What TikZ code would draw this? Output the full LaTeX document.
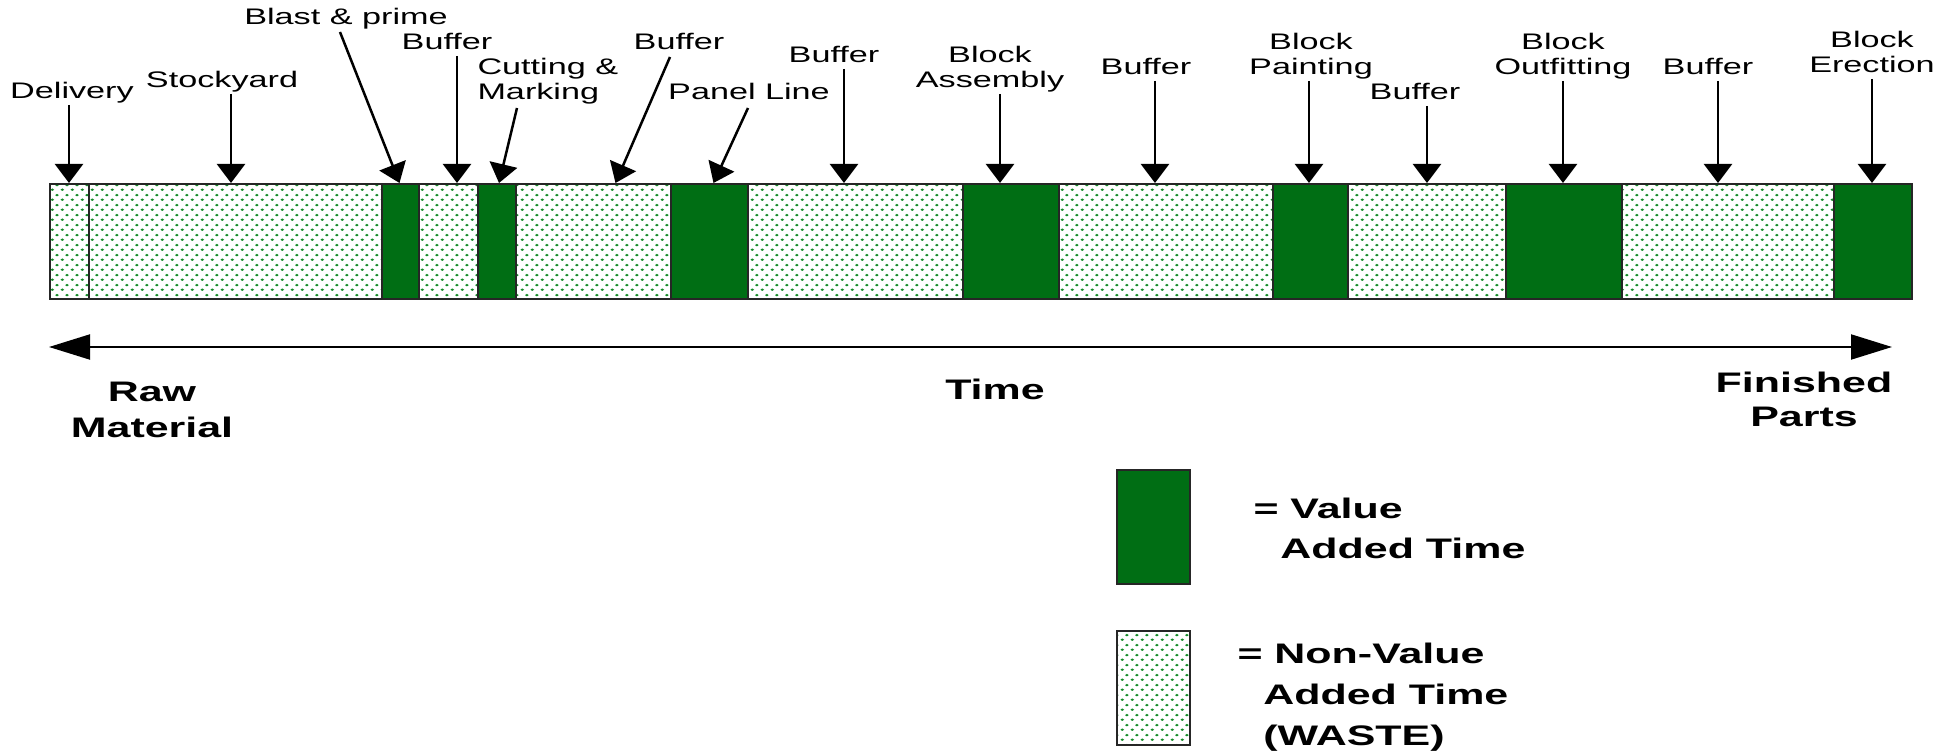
\documentclass[tikz,border=0pt]{standalone}
\usepackage{fontspec}
\setmainfont{Liberation Sans}
\usepackage{graphicx}
\usetikzlibrary{arrows.meta,patterns.meta,calc}

\definecolor{vagreen}{RGB}{0,110,20}
\definecolor{dotgreen}{RGB}{20,140,40}

\tikzdeclarepattern{
  name=wastedots, type=uncolored,
  bottom left={(0pt,0pt)}, top right={(4pt,4pt)}, tile size={(4pt,4pt)},
  code={
    \pgfpathellipse{\pgfqpoint{1pt}{1pt}}{\pgfqpoint{0.8pt}{0pt}}{\pgfqpoint{0pt}{0.55pt}}
    \pgfpathellipse{\pgfqpoint{3pt}{3pt}}{\pgfqpoint{0.8pt}{0pt}}{\pgfqpoint{0pt}{0.55pt}}
    \pgfusepath{fill}
  }
}

\newcommand{\stretchx}[1]{\scalebox{1.52}[1]{#1}}
\newcommand{\lblfont}{\fontsize{9}{10}\selectfont}
\newcommand{\segnode}[4]{\node[#1, minimum width={(#4-#3)*0.4pt}] (#2) at (#3,183) {};}
\newcommand{\vconn}[3]{\path (#1.base) ++(#3,6) coordinate (#1s); \draw[arr] (#1s) -- (#1s |- #2.north);}

\tikzset{
  segbase/.style={draw=black!85, line width=0.8pt, inner sep=0pt, minimum height=46pt, anchor=north west},
  vaseg/.style={segbase, fill=vagreen},
  nvseg/.style={segbase, pattern=wastedots, pattern color=dotgreen},
  toplabel/.style={inner sep=0pt, anchor=base, font=\lblfont},
  boldlabel/.style={inner sep=0pt, anchor=base, font=\fontsize{11.3}{14.4}\selectfont\bfseries},
  arr/.style={line width=1pt, -{Triangle[length=7.6pt,width=11.2pt]}},
  timearr/.style={line width=0.8pt, {Triangle[length=16.4pt,width=10pt]}-{Triangle[length=16.4pt,width=10pt]}},
}

\begin{document}
\begin{tikzpicture}[x=0.4pt,y=-0.4pt]
\useasboundingbox (0,0) rectangle (1955,752);
\fill[white] (0,0) rectangle (1955,752);

% bar segments
\segnode{nvseg}{s1}{49}{88}
\segnode{nvseg}{s2}{88}{381}
\segnode{vaseg}{s3}{381}{418}
\segnode{nvseg}{s4}{418}{477}
\segnode{vaseg}{s5}{477}{515}
\segnode{nvseg}{s6}{515}{670}
\segnode{vaseg}{s7}{670}{747}
\segnode{nvseg}{s8}{747}{962}
\segnode{vaseg}{s9}{962}{1058}
\segnode{nvseg}{s10}{1058}{1272}
\segnode{vaseg}{s11}{1272}{1347}
\segnode{nvseg}{s12}{1347}{1505}
\segnode{vaseg}{s13}{1505}{1621}
\segnode{nvseg}{s14}{1621}{1833}
\segnode{vaseg}{s15}{1833}{1911}

% top labels
\node[toplabel] (l1) at (72,99) {\stretchx{Delivery}};
\node[toplabel] (l2) at (222,88) {\stretchx{Stockyard}};
\node[toplabel] (l3) at (346,25) {\stretchx{Blast \& prime}};
\node[toplabel] (l4) at (447,50) {\stretchx{Buffer}};
\node[toplabel, anchor=base west] (l5) at (477,100) {\stretchx{\begin{tabular}[b]{@{}l@{}}Cutting \&\\Marking\end{tabular}}};
\node[toplabel] (l6) at (679,50) {\stretchx{Buffer}};
\node[toplabel] (l7) at (749,100) {\stretchx{Panel Line}};
\node[toplabel] (l8) at (834,63) {\stretchx{Buffer}};
\node[toplabel] (l9) at (990,88) {\stretchx{\begin{tabular}[b]{@{}c@{}}Block\\Assembly\end{tabular}}};
\node[toplabel] (l10) at (1146,75) {\stretchx{Buffer}};
\node[toplabel] (l11) at (1311,75) {\stretchx{\begin{tabular}[b]{@{}c@{}}Block\\Painting\end{tabular}}};
\node[toplabel] (l12) at (1415,100) {\stretchx{Buffer}};
\node[toplabel] (l13) at (1563,75) {\stretchx{\begin{tabular}[b]{@{}c@{}}Block\\Outfitting\end{tabular}}};
\node[toplabel] (l14) at (1708,75) {\stretchx{Buffer}};
\node[toplabel] (l15) at (1872,73) {\stretchx{\begin{tabular}[b]{@{}c@{}}Block\\Erection\end{tabular}}};

% vertical arrows
\vconn{l1}{s1}{-3}
\vconn{l2}{s2}{9}
\vconn{l4}{s4}{10}
\vconn{l8}{s8}{10}
\vconn{l9}{s9}{10}
\vconn{l10}{s10}{9}
\vconn{l11}{s11}{-2}
\vconn{l12}{s12}{12}
\vconn{l13}{s13}{0}
\vconn{l14}{s14}{10}
\vconn{l15}{s15}{0}

% slanted arrows
\draw[arr] ($(l3.base)+(-6,7)$) -- ($(s3.north)+(-1,0)$);
\draw[arr] ($(l5.base west)+(40,8)$) -- ($(s5.north)+(2,0)$);
\draw[arr] ($(l6.base)+(-9,7)$) -- ($(s6.north)+(22,0)$);
\draw[arr] ($(l7.base)+(-1,8)$) -- ($(s7.north)+(4,0)$);

% time axis
\coordinate (tl) at (49,347);
\coordinate (tr) at (1892,347);
\draw[timearr] (tl) -- (tr);

\node[boldlabel] (raw) at (152,438) {\stretchx{\begin{tabular}[b]{@{}c@{}}Raw\\Material\end{tabular}}};
\node[boldlabel] (time) at (995,400) {\stretchx{Time}};
\node[boldlabel, font=\fontsize{11.3}{13.6}\selectfont\bfseries] (fin) at (1804,427) {\stretchx{\begin{tabular}[b]{@{}c@{}}Finished\\Parts\end{tabular}}};

% legend
\node[vaseg, minimum width=29.2pt, minimum height=45.6pt] (lv) at (1116,469) {};
\node[nvseg, minimum width=29.2pt, minimum height=45.6pt] (lnv) at (1116,630) {};
\node[boldlabel, anchor=base west, font=\fontsize{11.3}{16}\selectfont\bfseries] (tv) at (1253,558) {\stretchx{\begin{tabular}[b]{@{}l@{}}= Value\\\hspace*{7.1pt}Added Time\end{tabular}}};
\node[boldlabel, anchor=base west, font=\fontsize{11.3}{16.4}\selectfont\bfseries] (tnv) at (1237,745) {\stretchx{\begin{tabular}[b]{@{}l@{}}= Non-Value\\\hspace*{6.8pt}Added Time\\\hspace*{6.8pt}(WASTE)\end{tabular}}};
\end{tikzpicture}
\end{document}
